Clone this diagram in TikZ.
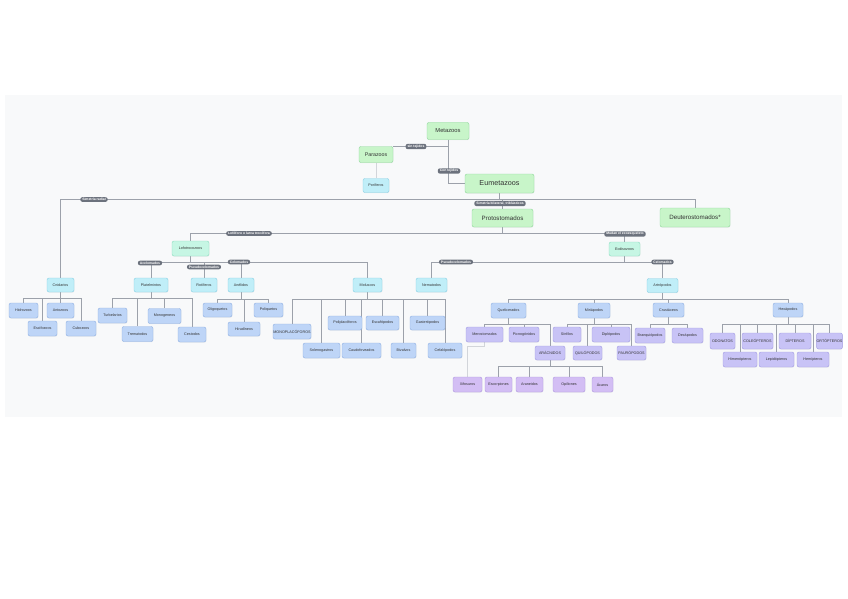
\documentclass[tikz,border=0pt]{standalone}
\usepackage{fontspec}
\setmainfont{Liberation Sans}
\usetikzlibrary{backgrounds,shadows}
\definecolor{panel}{HTML}{F8F9FA}
\definecolor{gfill}{HTML}{C8F5C9}
\definecolor{gdraw}{HTML}{8FD79B}
\definecolor{mfill}{HTML}{C6F6E4}
\definecolor{mdraw}{HTML}{8DDDC0}
\definecolor{cfill}{HTML}{C0EEF8}
\definecolor{cdraw}{HTML}{88D0E4}
\definecolor{bfill}{HTML}{BED5F7}
\definecolor{bdraw}{HTML}{8FB0E2}
\definecolor{pfill}{HTML}{C8C3F6}
\definecolor{pdraw}{HTML}{A29CE3}
\definecolor{qfill}{HTML}{D3BEF4}
\definecolor{qdraw}{HTML}{AF97E0}
\definecolor{labfill}{HTML}{6C727D}
\definecolor{conncol}{HTML}{9CA1AA}
\definecolor{faintcol}{HTML}{D2D5DA}
\tikzset{
 box/.style={rectangle, rounded corners=2pt, draw, line width=0.4pt, inner sep=0pt, align=center,
   font=\fontsize{3.7}{4}\selectfont, text=black!80,
   drop shadow={opacity=0.12, shadow xshift=0.4pt, shadow yshift=-0.6pt}},
 gbox/.style={box, fill=gfill, draw=gdraw},
 mbox/.style={box, fill=mfill, draw=mdraw},
 cbox/.style={box, fill=cfill, draw=cdraw},
 bbox/.style={box, fill=bfill, draw=bdraw},
 pbox/.style={box, fill=pfill, draw=pdraw},
 qbox/.style={box, fill=qfill, draw=qdraw},
 lab/.style={rectangle, rounded corners=2.2pt, fill=labfill, text=white, inner xsep=2pt, inner ysep=1.1pt,
   font=\fontsize{3.4}{3.6}\selectfont\bfseries},
 conn/.style={draw=conncol, line width=0.8pt},
 faint/.style={draw=faintcol, line width=0.6pt},
}
\begin{document}
\begin{tikzpicture}[x=1pt,y=-1pt]
\useasboundingbox (0,0) rectangle (848,599);
% ---------- nodes ----------
\node[gbox, minimum width=42pt, minimum height=17pt, font=\fontsize{5.8}{6}\selectfont] (meta) at (448,131) {Metazoos};
\node[gbox, minimum width=34pt, minimum height=16pt, font=\fontsize{5.3}{6}\selectfont] (para) at (376,154.5) {Parazoos};
\node[gbox, minimum width=69pt, minimum height=19pt, font=\fontsize{7.2}{8}\selectfont] (eum) at (499.5,183.5) {Eumetazoos};
\node[gbox, minimum width=61pt, minimum height=18pt, font=\fontsize{6.2}{7}\selectfont] (proto) at (502.5,218) {Protostomados};
\node[gbox, minimum width=70pt, minimum height=19pt, font=\fontsize{6.2}{7}\selectfont] (deut) at (695,217.5) {Deuterostomados*};
\node[mbox, minimum width=37pt, minimum height=15pt] (lofo) at (190.5,248.5) {Lofotrocozoos};
\node[mbox, minimum width=31pt, minimum height=14pt] (ecd) at (624.5,249) {Ecdisozoos};
% cyan
\node[cbox, minimum width=26pt, minimum height=14pt] (pori) at (376,185.5) {Poríferos};
\node[cbox, minimum width=27pt, minimum height=14pt] (cni) at (60.5,285) {Cnidarios};
\node[cbox, minimum width=34pt, minimum height=14pt] (plat) at (151,285) {Platelmintos};
\node[cbox, minimum width=26pt, minimum height=14pt] (rot) at (204,285) {Rotíferos};
\node[cbox, minimum width=26pt, minimum height=14pt] (ane) at (241,285) {Anélidos};
\node[cbox, minimum width=29pt, minimum height=14pt] (mol) at (367.5,285) {Moluscos};
\node[cbox, minimum width=31pt, minimum height=14pt] (nem) at (431.5,285) {Nematodos};
\node[cbox, minimum width=31pt, minimum height=14pt] (art) at (662.5,285.5) {Artrópodos};
% blue
\node[bbox, minimum width=29pt, minimum height=15pt] (hid) at (23.5,310.5) {Hidrozoos};
\node[bbox, minimum width=27pt, minimum height=15pt] (ant) at (60.5,310.5) {Antozoos};
\node[bbox, minimum width=29pt, minimum height=15pt] (esc) at (42.5,328.5) {Escifozoos};
\node[bbox, minimum width=30pt, minimum height=15pt] (cub) at (81,328.5) {Cubozoos};
\node[bbox, minimum width=29pt, minimum height=15pt] (tur) at (112.5,315.5) {Turbelarios};
\node[bbox, minimum width=31pt, minimum height=15pt] (tre) at (137.5,334) {Trematodos};
\node[bbox, minimum width=33pt, minimum height=15pt] (mon) at (164.5,316) {Monogeneos};
\node[bbox, minimum width=28pt, minimum height=15pt] (ces) at (192,334.5) {Cestodos};
\node[bbox, minimum width=29pt, minimum height=14pt] (oli) at (217.5,310) {Oligoquetos};
\node[bbox, minimum width=29pt, minimum height=14pt] (pol) at (268.5,310) {Poliquetos};
\node[bbox, minimum width=32pt, minimum height=14pt] (hir) at (244,329) {Hirudíneos};
\node[bbox, minimum width=38pt, minimum height=15pt] (mp) at (292,331.5) {MONOPLACÓFOROS};
\node[bbox, minimum width=34pt, minimum height=14pt] (pp) at (345,323) {Poliplacóforos};
\node[bbox, minimum width=33pt, minimum height=14pt] (esf) at (382.5,323) {Escafópodos};
\node[bbox, minimum width=35pt, minimum height=14pt] (gas) at (427.5,323) {Gasterópodos};
\node[bbox, minimum width=37pt, minimum height=15pt] (sol) at (321.5,350.5) {Solenogastros};
\node[bbox, minimum width=39pt, minimum height=15pt] (cau) at (361.5,350.5) {Caudofoveados};
\node[bbox, minimum width=25pt, minimum height=15pt] (biv) at (403.5,350.5) {Bivalvos};
\node[bbox, minimum width=34pt, minimum height=15pt] (cef) at (445,350.5) {Cefalópodos};
\node[bbox, minimum width=35pt, minimum height=15pt] (que) at (508.5,310.5) {Quelicerados};
\node[bbox, minimum width=32pt, minimum height=15pt] (mir) at (594,310.5) {Miriápodos};
\node[bbox, minimum width=31pt, minimum height=14pt] (cru) at (668.5,310) {Crustáceos};
\node[bbox, minimum width=30pt, minimum height=14pt] (hex) at (788,310) {Hexápodos};
% purple
\node[pbox, minimum width=37pt, minimum height=15pt] (mer) at (484.5,334.5) {Merostomados};
\node[pbox, minimum width=30pt, minimum height=15pt] (pic) at (524,334.5) {Picnogónidos};
\node[pbox, minimum width=30pt, minimum height=14pt] (ara) at (550,353) {ARÁCNIDOS};
\node[pbox, minimum width=28pt, minimum height=15pt] (sin) at (567,334.5) {Sínfilos};
\node[pbox, minimum width=38pt, minimum height=15pt] (dip) at (611,334.5) {Diplópodos};
\node[pbox, minimum width=29pt, minimum height=14pt] (qui) at (587.5,353) {QUILÓPODOS};
\node[pbox, minimum width=29pt, minimum height=14pt] (pau) at (631.5,353) {PAURÓPODOS};
\node[pbox, minimum width=30pt, minimum height=15pt] (bra) at (650,335.5) {Branquiópodos};
\node[pbox, minimum width=31pt, minimum height=15pt] (dec) at (687.5,335.5) {Decápodos};
\node[pbox, minimum width=25pt, minimum height=16pt] (odo) at (722.5,341) {ODONATOS};
\node[pbox, minimum width=31pt, minimum height=16pt] (col) at (757.5,341) {COLEÓPTEROS};
\node[pbox, minimum width=32pt, minimum height=16pt] (dipt) at (795,341) {DÍPTEROS};
\node[pbox, minimum width=25pt, minimum height=16pt] (ort) at (829.5,341) {ORTÓPTEROS};
\node[pbox, minimum width=34pt, minimum height=15pt] (him) at (740,359.5) {Himenópteros};
\node[pbox, minimum width=35pt, minimum height=15pt] (lep) at (776.5,359.5) {Lepidópteros};
\node[pbox, minimum width=32pt, minimum height=15pt] (hem) at (813,359.5) {Hemípteros};
% violet
\node[qbox, minimum width=29pt, minimum height=15pt] (xif) at (467.5,384.5) {Xifosuros};
\node[qbox, minimum width=27pt, minimum height=15pt] (escp) at (498.5,384.5) {Escorpiones};
\node[qbox, minimum width=27pt, minimum height=15pt] (aran) at (529.5,384.5) {Araneidos};
\node[qbox, minimum width=32pt, minimum height=15pt] (opi) at (569,384.5) {Opiliones};
\node[qbox, minimum width=21pt, minimum height=15pt] (aca) at (602.5,384.5) {Ácaros};
% ---------- bus coordinates ----------
\coordinate (busA) at (499.5,199.5);
\coordinate (busB) at (502.5,233.5);
\coordinate (busC) at (190.5,262);
\coordinate (busD) at (624.5,262);
\coordinate (busE) at (60.5,298.5);
\coordinate (busF) at (151,298.5);
\coordinate (busG) at (241,299);
\coordinate (busH) at (367.5,299);
\coordinate (busI) at (662.5,299.5);
\coordinate (busJ) at (508.5,324);
\coordinate (busK) at (594,324.5);
\coordinate (busL) at (668.5,324);
\coordinate (busM) at (788,324);
\coordinate (busN) at (550,366.5);
\coordinate (busO) at (484.5,346);
% ---------- background + connectors ----------
\begin{pgfonlayer}{background}
\fill[panel] (5,95) rectangle (842,417);
\draw[conn] (meta.south) |- (para.north east);
\draw[faint] (para.south) -- (pori.north);
\draw[conn] (meta.south) |- (eum.west);
\draw[conn] (eum.south) -- (busA);
\draw[conn] (busA) -| (cni.north);
\draw[conn] (busA) -| (deut.north);
\draw[conn] (busA) -| (proto.north);
\draw[conn] (proto.south) -- (busB);
\draw[conn] (busB) -| (lofo.north);
\draw[conn] (busB) -| (ecd.north);
\draw[conn] (lofo.south) -- (busC);
\foreach \n in {plat,rot,ane,mol} \draw[conn] (busC) -| (\n.north);
\draw[conn] (ecd.south) -- (busD);
\foreach \n in {nem,art} \draw[conn] (busD) -| (\n.north);
\draw[conn] (cni.south) -- (busE);
\foreach \n in {hid,ant,esc,cub} \draw[conn] (busE) -| (\n.north);
\draw[conn] (plat.south) -- (busF);
\foreach \n in {tur,tre,mon,ces} \draw[conn] (busF) -| (\n.north);
\draw[conn] (ane.south) -- (busG);
\foreach \n in {oli,pol,hir} \draw[conn] (busG) -| (\n.north);
\draw[conn] (mol.south) -- (busH);
\foreach \n in {mp,pp,esf,gas,sol,cau,biv,cef} \draw[conn] (busH) -| (\n.north);
\draw[conn] (art.south) -- (busI);
\foreach \n in {que,mir,cru,hex} \draw[conn] (busI) -| (\n.north);
\draw[conn] (que.south) -- (busJ);
\foreach \n in {mer,pic,ara} \draw[conn] (busJ) -| (\n.north);
\draw[conn] (mir.south) -- (busK);
\foreach \n in {sin,dip,qui,pau} \draw[conn] (busK) -| (\n.north);
\draw[conn] (cru.south) -- (busL);
\foreach \n in {bra,dec} \draw[conn] (busL) -| (\n.north);
\draw[conn] (hex.south) -- (busM);
\foreach \n in {odo,col,dipt,ort,him,lep,hem} \draw[conn] (busM) -| (\n.north);
\draw[conn] (ara.south) -- (busN);
\foreach \n in {escp,aran,opi,aca} \draw[conn] (busN) -| (\n.north);
\draw[faint] (mer.south) -- (busO) -| (xif.north);
\end{pgfonlayer}
% ---------- labels ----------
\node[lab] (l1) at (416,146.5) {sin tejidos};
\node[lab] (l2) at (449,171) {Con tejidos};
\node[lab] (l3) at (94,199.5) {Simetría radial};
\node[lab] (l4) at (500,203.5) {Simetría bilateral, triblásticos};
\node[lab] (l5) at (249,233.5) {Lofóforo o larva trocófora};
\node[lab] (l6) at (625,234) {Mudan el exoesqueleto};
\node[lab] (l7) at (150,263) {Acelomados};
\node[lab] (l8) at (204,267) {Pseudocelomados};
\node[lab] (l9) at (239,262) {Celomados};
\node[lab] (l10) at (456,262) {Pseudocelomados};
\node[lab] (l11) at (662.5,262) {Celomados};
\end{tikzpicture}
\end{document}
